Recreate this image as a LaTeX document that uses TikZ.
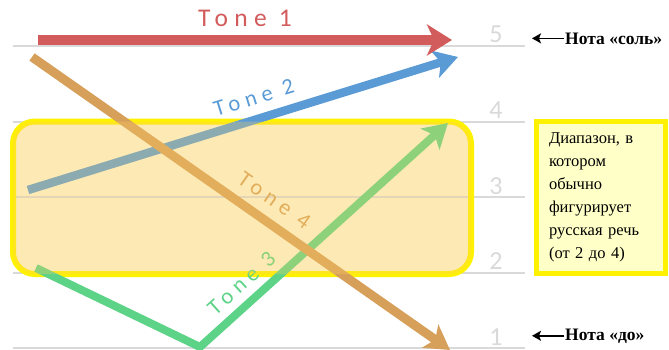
\documentclass[tikz,border=0pt]{standalone}
\usepackage{fontspec}
\setmainfont{Liberation Serif}
\newfontfamily\tonefont[LetterSpace=25]{Carlito}
\newfontfamily\numfont{Carlito}
\usetikzlibrary{positioning,calc,arrows.meta}
\definecolor{toneone}{HTML}{D25C5C}
\definecolor{tonetwo}{HTML}{5B9BD5}
\definecolor{tonethree}{HTML}{5DD387}
\definecolor{tonefour}{HTML}{D6A05A}
\definecolor{gridgray}{HTML}{D9D9D9}
\definecolor{rangefill}{HTML}{FCF4D9}
\definecolor{rangetint}{HTML}{FFD060}
\definecolor{notefill}{HTML}{FFFFC8}

\begin{document}
\begin{tikzpicture}[x=1pt,y=1pt,
  tone/.style={line width=#1,-{Stealth[length=24pt,width=28pt,inset=6pt]}},
  tonelabel/.style={sloped,inner sep=0pt,font=\tonefont\fontsize{22.5}{22.5}\selectfont},
  gridline/.style={draw=gridgray,line width=2pt},
  num/.style={anchor=base,inner sep=0pt,text=gridgray,font=\numfont\fontsize{26}{26}\selectfont},
  note/.style={anchor=base west,inner sep=1pt,font=\bfseries\fontsize{17.5}{17.5}\selectfont},
  notearrow/.style={line width=1.7pt,-{Stealth[length=9pt,width=10pt,inset=2pt]}},
  infobox/.style={draw=yellow,line width=5pt,fill=notefill,align=left,
                  text width=104pt,minimum width=129pt,minimum height=152.5pt,
                  inner xsep=12.5pt,font=\fontsize{16.5}{23}\selectfont}]
\useasboundingbox (0,0) rectangle (669,349);

% range of speech
\fill[rangefill,rounded corners=22pt] (13,75) rectangle (471,227.5);
\foreach \n in {1,...,5}
  \draw[gridline] (13,75.5*\n-74.5) -- (525,75.5*\n-74.5);
\foreach \n in {1,...,5}
  \node[num] (n\n) at (496,75.5*\n-71.5) {\n};
\draw[yellow,line width=6pt,rounded corners=22pt] (13,75) rectangle (471,227.5);

% tones
\coordinate (t2a) at (28,159);   \coordinate (t2b) at (458,292);
\coordinate (t3a) at (36,81);    \coordinate (t3b) at (200,2);
\coordinate (t3c) at (448,226);
\coordinate (t1a) at (38,309);   \coordinate (t1b) at (452,309);
\coordinate (t4a) at (32,292);   \coordinate (t4b) at (450,-1);

\draw[tone=8.5pt,tonetwo] (t2a) -- node[tonelabel,pos=.54,above=10pt,text=tonetwo]{Tone 2} (t2b);
\draw[tone=8pt,tonethree] (t3a) -- (t3b) -- node[tonelabel,pos=.22,above=8pt,text=tonethree]{Tone 3} (t3c);
\draw[tone=10pt,toneone,-{Stealth[length=25pt,width=31pt,inset=7pt]}] (t1a) --
  node[tonelabel,pos=.5,above=8pt,text=toneone,font=\tonefont\fontsize{25.5}{25.5}\selectfont]{Tone 1} (t1b);
\draw[tone=9pt,tonefour] (t4a) -- node[tonelabel,pos=.55,above=10pt,text=tonefour]{Tone 4} (t4b);

\fill[rangetint,opacity=.3,rounded corners=22pt] (13,75) rectangle (471,227.5);

% notes
\node[infobox] (range) at (601,151.75) {Диапазон, в\\котором\\обычно\\фигурирует\\русская речь\\(от 2 до 4)};
\node[note] (sol) at (564,305) {Нота «соль»};
\node[note] (do) at (564,9) {Нота «до»};
\coordinate (arrowend) at (532,0);
\draw[notearrow] (sol.west) -- (sol.west -| arrowend);
\draw[notearrow] (do.west) -- (do.west -| arrowend);
\end{tikzpicture}
\end{document}
